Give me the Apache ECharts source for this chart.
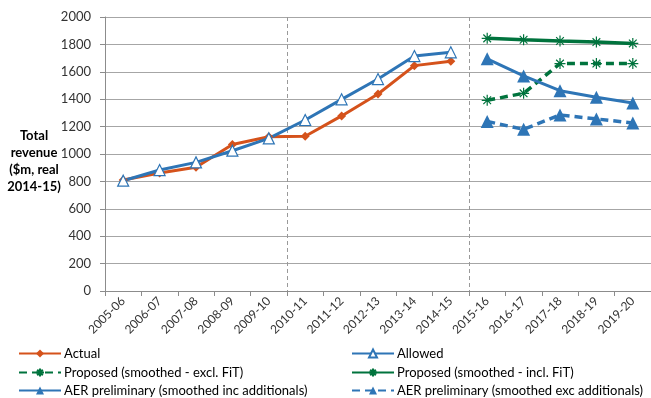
<!DOCTYPE html>
<html>
<head>
<meta charset="utf-8">
<script src="https://cdn.jsdelivr.net/npm/echarts@6/dist/echarts.min.js"></script>
<style>html,body{margin:0;padding:0;background:#fff}#c{width:651px;height:398px}</style>
</head>
<body>
<div id="c"></div>
<script>
var categories = ['2005-06','2006-07','2007-08','2008-09','2009-10','2010-11','2011-12','2012-13','2013-14','2014-15','2015-16','2016-17','2017-18','2018-19','2019-20'];
var actual = [810, 862, 903, 1070, 1126, 1130, 1278, 1438, 1645, 1677, null, null, null, null, null];
var allowed = [805, 883, 939, 1024, 1114, 1248, 1399, 1547, 1715, 1742, null, null, null, null, null];
var proposedExcl = [null, null, null, null, null, null, null, null, null, null, 1392, 1443, 1660, 1660, 1660];
var proposedIncl = [null, null, null, null, null, null, null, null, null, null, 1844, 1834, 1825, 1817, 1807];
var aerInc = [null, null, null, null, null, null, null, null, null, null, 1695, 1570, 1462, 1414, 1372];
var aerExc = [null, null, null, null, null, null, null, null, null, null, 1238, 1180, 1285, 1256, 1226];
var yTicks = {min: 0, max: 2000, interval: 200};
var legendCol1 = ['Actual', 'Proposed (smoothed - excl. FiT)', 'AER preliminary (smoothed inc additionals)'];
var legendCol2 = ['Allowed', 'Proposed (smoothed - incl. FiT)', 'AER preliminary (smoothed exc additionals)'];

var FONT = 'Lato';
var orange = '#D5521B', blue = '#2E75B6', green = '#00733D';
var star = 'path://M0,5L10,5M5,0L5,10M1.5,1.5L8.5,8.5M8.5,1.5L1.5,8.5';

var legends = [];
var rowTops = [347, 366, 384];
function addLegend(name, left, top) {
  legends.push({
    orient: 'horizontal', left: left, top: top, padding: 0, itemWidth: 42, itemHeight: 10,
    textStyle: {fontSize: 13, color: '#000', fontFamily: FONT, padding: [0, 0, 0, -2]},
    data: [name]
  });
}
legendCol1.forEach(function (n, i) { addLegend(n, 18, rowTops[i]); });
legendCol2.forEach(function (n, i) { addLegend(n, 351, rowTops[i]); });

var chart = echarts.init(document.getElementById('c'), null, {renderer: 'canvas'});
chart.setOption({
  animation: false,
  textStyle: {fontFamily: FONT},
  grid: {left: 105, top: 17, width: 550, height: 274, containLabel: false},
  xAxis: {
    type: 'category', data: categories, boundaryGap: true,
    axisLine: {show: true, lineStyle: {color: '#8c8c8c', width: 1}},
    axisTick: {show: true, length: 5, lineStyle: {color: '#8c8c8c'}},
    axisLabel: {rotate: 45, fontSize: 12, color: '#333333', margin: 8, fontFamily: FONT, interval: 0},
    splitLine: {show: true, interval: function (i) { return i === 5 || i === 10; },
      lineStyle: {color: '#999999', type: [4, 3], width: 1}}
  },
  yAxis: {
    type: 'value', min: yTicks.min, max: yTicks.max, interval: yTicks.interval,
    axisLine: {show: true, lineStyle: {color: '#8c8c8c', width: 1}},
    axisTick: {show: true, length: 5, lineStyle: {color: '#8c8c8c'}},
    axisLabel: {fontSize: 13, color: '#333333', margin: 14, fontFamily: FONT,
      formatter: function (v) { return String(v); }},
    splitLine: {show: true, lineStyle: {color: '#a6a6a6', width: 1}}
  },
  graphic: [{
    type: 'text', x: 34, y: 127,
    style: {text: 'Total\nrevenue\n($m, real\n2014-15)', fontFamily: FONT, fontSize: 13, fontWeight: 'bold',
      fill: '#000', align: 'center', verticalAlign: 'top', lineHeight: 17}
  }],
  legend: legends,
  series: [
    {name: 'Actual', type: 'line', data: actual, symbol: 'diamond', symbolSize: 9,
      lineStyle: {color: orange, width: 3}, itemStyle: {color: orange}},
    {name: 'Allowed', type: 'line', data: allowed, symbol: 'triangle', symbolSize: 11,
      lineStyle: {color: blue, width: 3}, itemStyle: {color: '#fff', borderColor: blue, borderWidth: 1.2}},
    {name: 'Proposed (smoothed - excl. FiT)', type: 'line', data: proposedExcl, symbol: star, symbolSize: 11,
      lineStyle: {color: green, width: 3.5, type: [8, 5]}, itemStyle: {color: green, borderColor: green, borderWidth: 1.2}},
    {name: 'Proposed (smoothed - incl. FiT)', type: 'line', data: proposedIncl, symbol: star, symbolSize: 11,
      lineStyle: {color: green, width: 3.5}, itemStyle: {color: green, borderColor: green, borderWidth: 1.2}},
    {name: 'AER preliminary (smoothed inc additionals)', type: 'line', data: aerInc, symbol: 'triangle', symbolSize: 13,
      lineStyle: {color: blue, width: 3}, itemStyle: {color: blue}},
    {name: 'AER preliminary (smoothed exc additionals)', type: 'line', data: aerExc, symbol: 'triangle', symbolSize: 13,
      lineStyle: {color: blue, width: 3.5, type: [8, 5]}, itemStyle: {color: blue}}
  ]
});
</script>
</body>
</html>
